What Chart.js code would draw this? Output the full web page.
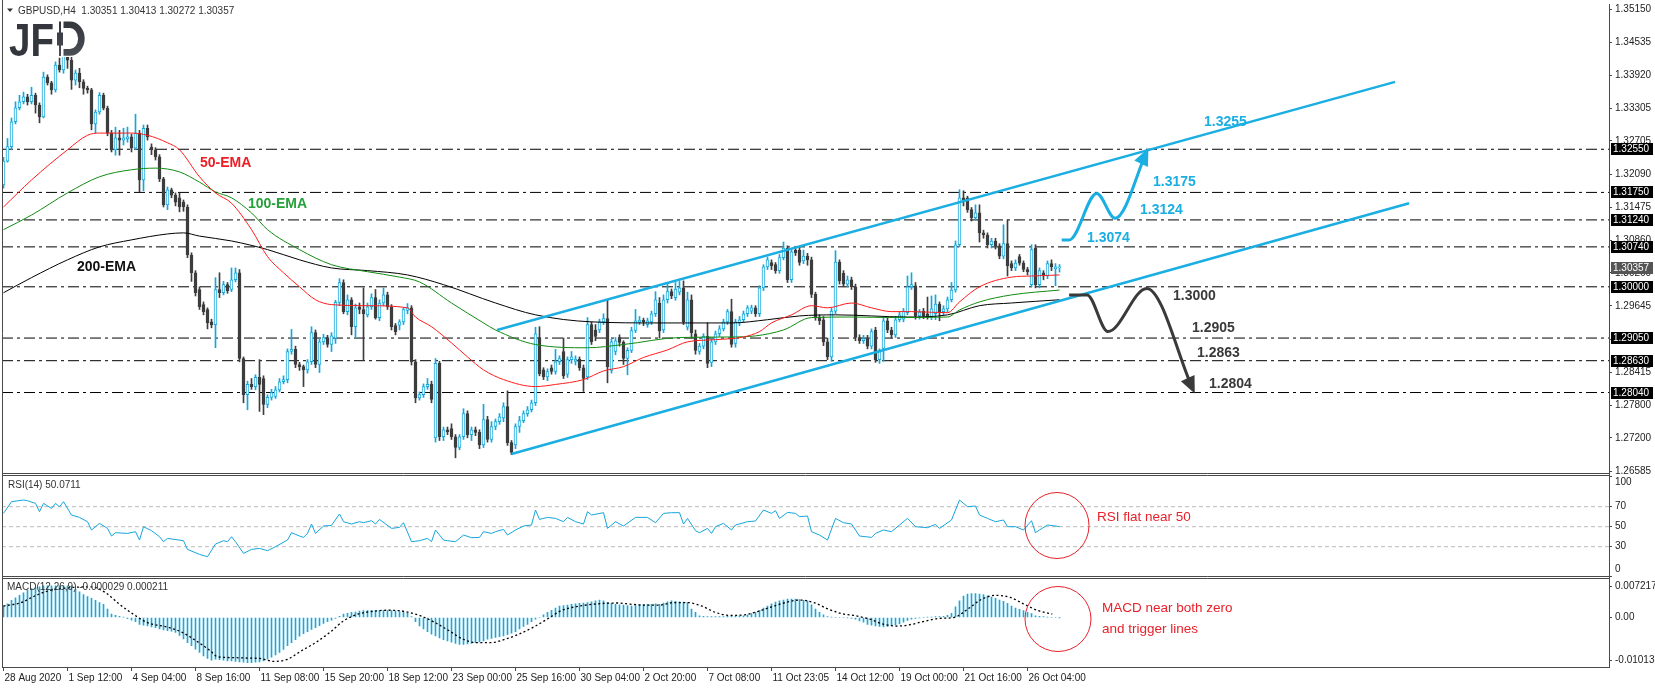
<!DOCTYPE html>
<html>
<head>
<meta charset="utf-8">
<title>GBPUSD H4</title>
<script src="https://cdn.jsdelivr.net/npm/chart.js@4.4.1/dist/chart.umd.min.js"></script>
<style>
  html, body { margin: 0; padding: 0; background: #fff; }
  canvas { display: block; }
</style>
</head>
<body>
<canvas id="chart" width="1655" height="688"></canvas>
<script>
'use strict';

// ---- values: GBPUSD H4, one entry per bar ----
const OPEN = [
  1.3189,1.3233,1.3260,1.3306,1.3332,1.3343,1.3352,1.3343,1.3355,1.3337,
  1.3315,1.3389,1.3378,1.3365,1.3411,1.3402,1.3435,1.3420,1.3383,1.3396,
  1.3380,1.3368,1.3365,1.3302,1.3324,1.3355,1.3331,1.3285,1.3254,1.3276,
  1.3272,1.3274,1.3278,1.3257,1.3285,1.3198,1.3294,1.3259,1.3254,1.3241,
  1.3200,1.3152,1.3180,1.3170,1.3165,1.3157,1.3148,1.3059,1.3026,1.2995,
  1.2967,1.2958,1.2935,1.2930,1.2995,1.2989,1.3004,1.2995,1.3013,1.3026,
  1.2867,1.2800,1.2819,1.2815,1.2832,1.2830,1.2782,1.2795,1.2797,1.2809,
  1.2824,1.2828,1.2880,1.2884,1.2856,1.2852,1.2846,1.2861,1.2915,1.2856,
  1.2898,1.2906,1.2893,1.2905,1.2971,1.3008,1.2954,1.2976,1.2926,1.2963,
  1.2958,1.2948,1.2963,1.2980,1.2943,1.2970,1.2985,1.2963,1.2928,1.2929,
  1.2935,1.2956,1.2961,1.2861,1.2794,1.2800,1.2815,1.2819,1.2720,1.2858,
  1.2722,1.2735,1.2737,1.2722,1.2702,1.2722,1.2765,1.2726,1.2735,1.2730,
  1.2707,1.2754,1.2717,1.2741,1.2750,1.2757,1.2778,1.2711,1.2707,1.2741,
  1.2752,1.2765,1.2772,1.2785,1.2906,1.2846,1.2833,1.2850,1.2843,1.2861,
  1.2880,1.2838,1.2865,1.2862,1.2866,1.2850,1.2833,1.2930,1.2920,1.2920,
  1.2935,1.2941,1.2845,1.2880,1.2906,1.2897,1.2867,1.2882,1.2919,1.2935,
  1.2938,1.2930,1.2935,1.2950,1.2970,1.2920,1.2976,1.2991,1.2980,1.2990,
  1.2998,1.2925,1.2976,1.2913,1.2880,1.2890,1.2908,1.2860,1.2898,1.2913,
  1.2922,1.2935,1.2954,1.2895,1.2933,1.2939,1.2950,1.2955,1.2961,1.2950,
  1.2998,1.3037,1.3045,1.3041,1.3030,1.3054,1.3072,1.3013,1.3068,1.3068,
  1.3048,1.3057,1.3050,1.2986,1.2943,1.2939,1.2898,1.2870,1.2955,1.3046,
  1.3025,1.3005,1.3013,1.3000,1.2906,1.2900,1.2904,1.2890,1.2920,1.2865,
  1.2886,1.2937,1.2920,1.2911,1.2939,1.2940,1.2952,1.3000,1.3002,1.2946,
  1.2955,1.2950,1.2944,1.2950,1.2968,1.2954,1.2959,1.2976,1.2994,1.3078,
  1.3165,1.3165,1.3143,1.3128,1.3137,1.3100,1.3096,1.3078,1.3085,1.3076,
  1.3057,1.3080,1.3043,1.3035,1.3056,1.3044,1.3032,1.3004,1.3072,1.3004,
  1.3026,1.3020,1.3043,1.3033,1.30351
];
const HIGH = [
  1.3240,1.3275,1.3313,1.3343,1.3355,1.3361,1.3357,1.3370,1.3359,1.3341,
  1.3398,1.3393,1.3381,1.3417,1.3424,1.3460,1.3482,1.3432,1.3402,1.3405,
  1.3384,1.3372,1.3368,1.3328,1.3360,1.3359,1.3335,1.3290,1.3296,1.3290,
  1.3294,1.3296,1.3283,1.3320,1.3290,1.3300,1.3300,1.3265,1.3258,1.3245,
  1.3203,1.3185,1.3183,1.3174,1.3174,1.3161,1.3152,1.3063,1.3030,1.3000,
  1.2972,1.2961,1.2940,1.3017,1.3026,1.3010,1.3008,1.3035,1.3035,1.3032,
  1.2870,1.2825,1.2830,1.2837,1.2865,1.2835,1.2800,1.2810,1.2815,1.2830,
  1.2835,1.2885,1.2921,1.2890,1.2860,1.2855,1.2865,1.2926,1.2920,1.2905,
  1.2912,1.2910,1.2915,1.2975,1.3015,1.3013,1.2985,1.2980,1.2968,1.2970,
  1.2998,1.2970,1.2987,1.2995,1.2976,1.2998,1.2990,1.2967,1.2932,1.2939,
  1.2961,1.2969,1.2965,1.2865,1.2805,1.2820,1.2830,1.2825,1.2867,1.2862,
  1.2740,1.2740,1.2746,1.2726,1.2726,1.2774,1.2770,1.2740,1.2740,1.2735,
  1.2782,1.2760,1.2750,1.2755,1.2765,1.2785,1.2807,1.2715,1.2746,1.2760,
  1.2770,1.2778,1.2790,1.2925,1.2926,1.2850,1.2848,1.2855,1.2884,1.2872,
  1.2905,1.2870,1.2880,1.2872,1.2870,1.2855,1.2943,1.2935,1.2930,1.2940,
  1.2950,1.2976,1.2903,1.2906,1.2911,1.2900,1.2887,1.2925,1.2958,1.2945,
  1.2942,1.2942,1.2955,1.2991,1.2980,1.2985,1.3005,1.2996,1.3008,1.3010,
  1.3011,1.2990,1.2985,1.2920,1.2895,1.2913,1.2933,1.2905,1.2918,1.2928,
  1.2940,1.2958,1.2977,1.2940,1.2945,1.2955,1.2965,1.2966,1.2965,1.3002,
  1.3041,1.3055,1.3050,1.3045,1.3060,1.3083,1.3076,1.3070,1.3074,1.3075,
  1.3068,1.3062,1.3055,1.2990,1.2948,1.2945,1.2905,1.2960,1.3067,1.3050,
  1.3030,1.3020,1.3018,1.3005,1.2911,1.2910,1.2910,1.2922,1.2925,1.2885,
  1.2942,1.2942,1.2925,1.2945,1.2953,1.2960,1.3020,1.3026,1.3008,1.2958,
  1.2960,1.2981,1.2983,1.2985,1.2972,1.2965,1.2981,1.3008,1.3085,1.3180,
  1.3178,1.3168,1.3147,1.3152,1.3152,1.3105,1.3100,1.3090,1.3090,1.3080,
  1.3115,1.3124,1.3048,1.3050,1.3060,1.3048,1.3036,1.3078,1.3078,1.3035,
  1.3030,1.3048,1.3050,1.3043,1.30413
];
const LOW = [
  1.3183,1.3231,1.3254,1.3302,1.3328,1.3339,1.3337,1.3339,1.3322,1.3304,
  1.3313,1.3374,1.3357,1.3361,1.3398,1.3396,1.3405,1.3366,1.3374,1.3369,
  1.3357,1.3359,1.3291,1.3285,1.3320,1.3328,1.3280,1.3250,1.3244,1.3244,
  1.3263,1.3268,1.3250,1.3254,1.3176,1.3178,1.3272,1.3245,1.3235,1.3195,
  1.3148,1.3143,1.3165,1.3150,1.3139,1.3140,1.3054,1.3010,1.2983,1.2958,
  1.2948,1.2922,1.2924,1.2887,1.2980,1.2985,1.2988,1.2991,1.3009,1.2861,
  1.2785,1.2772,1.2810,1.2809,1.2769,1.2763,1.2776,1.2790,1.2793,1.2805,
  1.2820,1.2822,1.2875,1.2850,1.2845,1.2815,1.2840,1.2856,1.2850,1.2841,
  1.2893,1.2888,1.2880,1.2895,1.2965,1.2950,1.2948,1.2911,1.2905,1.2950,
  1.2865,1.2944,1.2958,1.2940,1.2937,1.2965,1.2958,1.2920,1.2911,1.2920,
  1.2930,1.2950,1.2855,1.2785,1.2790,1.2795,1.2810,1.2785,1.2712,1.2715,
  1.2715,1.2726,1.2717,1.2683,1.2698,1.2717,1.2720,1.2715,1.2724,1.2700,
  1.2702,1.2712,1.2712,1.2735,1.2745,1.2750,1.2706,1.2689,1.2700,1.2730,
  1.2748,1.2760,1.2768,1.2780,1.2835,1.2828,1.2826,1.2838,1.2838,1.2856,
  1.2830,1.2832,1.2858,1.2855,1.2845,1.2806,1.2828,1.2893,1.2900,1.2915,
  1.2930,1.2822,1.2840,1.2874,1.2890,1.2856,1.2837,1.2878,1.2915,1.2930,
  1.2928,1.2925,1.2930,1.2945,1.2905,1.2915,1.2970,1.2978,1.2975,1.2985,
  1.2930,1.2920,1.2905,1.2875,1.2875,1.2885,1.2850,1.2852,1.2893,1.2908,
  1.2918,1.2930,1.2888,1.2888,1.2928,1.2935,1.2945,1.2950,1.2945,1.2945,
  1.2993,1.3032,1.3032,1.3025,1.3025,1.3050,1.3008,1.3008,1.3058,1.3040,
  1.3043,1.3040,1.2980,1.2938,1.2930,1.2891,1.2865,1.2862,1.2950,1.3005,
  1.3000,1.3000,1.2995,1.2900,1.2895,1.2895,1.2885,1.2885,1.2860,1.2858,
  1.2862,1.2915,1.2905,1.2906,1.2935,1.2935,1.2948,1.2995,1.2940,1.2940,
  1.2941,1.2940,1.2939,1.2939,1.2937,1.2948,1.2953,1.2972,1.2990,1.3074,
  1.3150,1.3138,1.3122,1.3124,1.3083,1.3090,1.3072,1.3072,1.3070,1.3052,
  1.3052,1.3020,1.3030,1.3030,1.3040,1.3028,1.3022,1.3000,1.2998,1.2998,
  1.3013,1.3015,1.3030,1.3002,1.30272
];
const CLOSE = [
  1.3233,1.3260,1.3306,1.3332,1.3343,1.3352,1.3343,1.3355,1.3337,1.3315,
  1.3389,1.3378,1.3365,1.3411,1.3402,1.3435,1.3420,1.3383,1.3396,1.3380,
  1.3368,1.3365,1.3302,1.3324,1.3355,1.3331,1.3285,1.3254,1.3276,1.3272,
  1.3276,1.3278,1.3257,1.3285,1.3198,1.3294,1.3278,1.3254,1.3241,1.3200,
  1.3152,1.3180,1.3170,1.3157,1.3148,1.3148,1.3059,1.3026,1.2989,1.2963,
  1.2954,1.2933,1.2930,1.2995,1.2989,1.3004,1.2993,1.3013,1.3026,1.2867,
  1.2800,1.2819,1.2815,1.2832,1.2819,1.2782,1.2795,1.2804,1.2809,1.2824,
  1.2828,1.2880,1.2884,1.2856,1.2852,1.2846,1.2861,1.2915,1.2856,1.2898,
  1.2906,1.2893,1.2909,1.2971,1.3008,1.2954,1.2976,1.2926,1.2961,1.2958,
  1.2950,1.2963,1.2980,1.2943,1.2970,1.2985,1.2963,1.2926,1.2917,1.2935,
  1.2958,1.2961,1.2861,1.2794,1.2800,1.2815,1.2819,1.2791,1.2858,1.2722,
  1.2735,1.2731,1.2722,1.2702,1.2722,1.2765,1.2726,1.2735,1.2730,1.2707,
  1.2754,1.2717,1.2741,1.2750,1.2759,1.2778,1.2711,1.2693,1.2741,1.2752,
  1.2765,1.2772,1.2785,1.2913,1.2839,1.2833,1.2843,1.2843,1.2861,1.2867,
  1.2835,1.2865,1.2870,1.2866,1.2850,1.2830,1.2930,1.2898,1.2908,1.2935,
  1.2941,1.2852,1.2898,1.2900,1.2897,1.2867,1.2882,1.2919,1.2937,1.2938,
  1.2935,1.2937,1.2950,1.2976,1.2918,1.2976,1.2991,1.2983,1.2996,1.2998,
  1.2935,1.2976,1.2915,1.2882,1.2890,1.2908,1.2858,1.2898,1.2913,1.2922,
  1.2935,1.2954,1.2893,1.2935,1.2939,1.2950,1.2961,1.2961,1.2950,1.2998,
  1.3037,1.3050,1.3039,1.3030,1.3054,1.3072,1.3013,1.3065,1.3063,1.3045,
  1.3057,1.3050,1.2986,1.2943,1.2937,1.2898,1.2870,1.2955,1.3046,1.3011,
  1.3005,1.3013,1.3000,1.2906,1.2900,1.2904,1.2890,1.2917,1.2865,1.2880,
  1.2937,1.2920,1.2911,1.2939,1.2948,1.2955,1.3000,1.3004,1.2946,1.2953,
  1.2946,1.2944,1.2959,1.2968,1.2954,1.2959,1.2976,1.2994,1.3078,1.3165,
  1.3161,1.3143,1.3128,1.3137,1.3100,1.3096,1.3078,1.3085,1.3076,1.3057,
  1.3080,1.3039,1.3035,1.3044,1.3044,1.3032,1.3028,1.3069,1.3004,1.3030,
  1.3020,1.3043,1.3037,1.3037,1.30357
];

// moving averages, [bar, price] read at intervals along each curve
const EMA50 = [[0,1.3148],[7,1.3198],[16,1.3254],[21,1.3281],[24,1.3285],[32,1.3285],[36,1.3281],[41,1.3267],[44,1.3254],[49,1.3204],[53,1.3174],[57,1.3155],[62,1.3106],[66,1.3056],[70,1.3026],[74,1.3000],[78,1.2976],[82,1.2967],[91,1.2965],[101,1.2961],[103,1.2944],[107,1.2926],[112,1.2896],[116,1.2870],[120,1.2846],[125,1.2828],[133,1.2815],[138,1.2819],[145,1.2828],[150,1.2844],[155,1.2852],[160,1.2869],[166,1.2883],[171,1.2898],[178,1.2902],[185,1.2907],[189,1.2917],[192,1.2933],[197,1.2948],[202,1.2965],[206,1.2961],[212,1.2970],[217,1.2961],[222,1.2954],[227,1.2954],[236,1.2952],[239,1.2972],[244,1.3000],[252,1.3018],[257,1.3020],[264,1.3022]];
const EMA100 = [[0,1.3106],[7,1.3133],[16,1.3174],[24,1.3204],[32,1.3217],[38,1.3220],[44,1.3213],[49,1.3194],[53,1.3176],[57,1.3165],[62,1.3137],[66,1.3106],[74,1.3069],[82,1.3041],[91,1.3028],[99,1.3018],[104,1.3009],[112,1.2970],[120,1.2933],[123,1.2920],[133,1.2893],[146,1.2887],[155,1.2893],[169,1.2906],[182,1.2907],[188,1.2909],[195,1.2920],[202,1.2943],[212,1.2944],[223,1.2943],[236,1.2944],[239,1.2957],[244,1.2972],[252,1.2985],[264,1.2994]];
const EMA200 = [[0,1.2989],[7,1.3017],[16,1.3050],[24,1.3074],[32,1.3087],[41,1.3098],[45,1.3100],[49,1.3094],[57,1.3085],[66,1.3069],[74,1.3050],[82,1.3035],[91,1.3030],[101,1.3022],[110,1.3004],[123,1.2970],[133,1.2948],[147,1.2935],[164,1.2933],[182,1.2933],[191,1.2939],[199,1.2946],[208,1.2948],[226,1.2944],[236,1.2948],[244,1.2965],[252,1.2970],[264,1.2976]];

// RSI(14), [bar, value]
const RSI = [[0,63.3],[2,75],[5,76.7],[6,76],[8,73.3],[9,65],[10,73.3],[12,68.3],[13,73.3],[14,70],[15,75],[17,61.7],[19,59.3],[21,55],[22,46.7],[24,53.3],[26,48.3],[27,40.7],[28,44],[31,43.3],[33,45],[34,36.7],[35,50],[37,46],[39,40],[40,35],[41,38.3],[45,36],[46,27.3],[49,22.3],[51,20],[53,32.7],[55,36],[56,35],[57,40],[58,35],[60,23.3],[62,27.3],[64,28.3],[66,26],[68,30],[71,36.7],[72,44],[74,40.7],[75,39.3],[76,43.3],[77,52.7],[78,43.3],[80,50.7],[82,51.3],[84,62.7],[85,55],[87,52.7],[89,55],[90,54],[92,56],[93,52.7],[94,57.3],[97,48.3],[99,49.3],[100,54],[102,35],[104,36],[106,38.3],[107,35],[108,46.7],[110,36.7],[111,36],[113,35],[115,41.7],[117,39],[119,39.3],[120,45],[122,43.3],[123,45],[125,47.3],[126,41.7],[128,46.7],[130,50.7],[132,51.7],[133,66.7],[134,57.3],[136,59.3],[138,58.3],[140,55],[141,59.3],[143,55],[145,52.7],[146,65],[147,61.7],[150,64],[151,48.3],[153,55],[155,50.7],[158,59.3],[161,59.3],[163,54],[165,63.3],[167,64],[169,64],[170,52.7],[171,58.3],[173,46],[174,44],[176,48.3],[177,43.3],[178,50],[180,53.3],[182,46.7],[183,51.7],[186,55],[188,55.7],[190,66.7],[192,63.3],[193,66],[194,58.3],[196,64.3],[198,63.3],[199,60],[201,60.7],[202,45],[204,41.7],[206,36.7],[208,58.3],[210,54],[212,52.7],[214,40.7],[217,39.3],[218,43.3],[220,46.7],[222,45],[224,51.7],[226,58.3],[228,50],[231,49],[233,52.3],[234,48.3],[237,56.7],[239,76.7],[241,70],[243,70.7],[244,61.7],[246,58.3],[248,55],[250,56.7],[251,50],[253,50],[255,46.7],[257,56],[258,44],[259,46.7],[261,51.7],[263,50.7],[264,50.0711]];
const RSI_LEVELS = [30, 50, 70];

// MACD(12,26,9): main line as histogram (one per bar), signal as [bar, value]
const MACD_HIST = [
  0.0027,0.0032,0.0040,0.0046,0.0052,0.0058,0.0064,0.0068,0.0070,0.0072,
  0.0074,0.0074,0.0074,0.0074,0.0074,0.0074,0.0074,0.0072,0.0066,0.0060,
  0.0054,0.0049,0.0045,0.0040,0.0035,0.0031,0.0020,0.0008,0.0005,0.0003,
  0.0001,-0.0003,-0.0006,-0.0010,-0.0016,-0.0018,-0.0020,-0.0022,-0.0024,-0.0027,
  -0.0029,-0.0031,-0.0032,-0.0035,-0.0042,-0.0050,-0.0059,-0.0066,-0.0074,-0.0082,
  -0.0090,-0.0096,-0.0100,-0.0098,-0.0099,-0.0100,-0.0102,-0.0102,-0.0103,-0.0104,
  -0.0105,-0.0106,-0.0106,-0.0105,-0.0104,-0.0102,-0.0098,-0.0093,-0.0088,-0.0082,
  -0.0075,-0.0066,-0.0059,-0.0052,-0.0044,-0.0038,-0.0033,-0.0028,-0.0024,-0.0019,
  -0.0014,-0.0010,-0.0006,-0.0002,0.0003,0.0008,0.0010,0.0012,0.0013,0.0015,
  0.0016,0.0016,0.0017,0.0017,0.0017,0.0017,0.0016,0.0016,0.0015,0.0014,
  0.0012,0.0010,0.0002,-0.0010,-0.0020,-0.0027,-0.0033,-0.0039,-0.0043,-0.0048,
  -0.0052,-0.0055,-0.0058,-0.0061,-0.0063,-0.0063,-0.0062,-0.0061,-0.0059,-0.0057,
  -0.0055,-0.0051,-0.0049,-0.0047,-0.0045,-0.0043,-0.0040,-0.0037,-0.0033,-0.0027,
  -0.0021,-0.0016,-0.0010,-0.0004,0.0000,0.0006,0.0012,0.0017,0.0022,0.0027,
  0.0028,0.0029,0.0031,0.0032,0.0033,0.0034,0.0035,0.0037,0.0039,0.0041,
  0.0039,0.0035,0.0033,0.0031,0.0030,0.0029,0.0028,0.0027,0.0028,0.0030,
  0.0031,0.0031,0.0031,0.0032,0.0031,0.0034,0.0037,0.0039,0.0038,0.0037,
  0.0036,0.0035,0.0020,0.0012,0.0004,0.0003,0.0002,0.0002,0.0002,0.0002,
  0.0002,0.0003,0.0003,0.0003,0.0004,0.0004,0.0006,0.0009,0.0012,0.0017,
  0.0022,0.0027,0.0032,0.0036,0.0039,0.0041,0.0043,0.0043,0.0043,0.0042,
  0.0040,0.0039,0.0030,0.0020,0.0012,0.0006,0.0002,0.0001,0.0000,0.0000,
  0.0000,-0.0001,-0.0002,-0.0004,-0.0008,-0.0011,-0.0016,-0.0018,-0.0020,-0.0021,
  -0.0022,-0.0021,-0.0019,-0.0017,-0.0015,-0.0011,-0.0007,-0.0004,-0.0002,-0.0001,
  0.0000,0.0001,0.0001,0.0002,0.0002,0.0003,0.0005,0.0010,0.0025,0.0039,
  0.0050,0.0055,0.0056,0.0056,0.0055,0.0054,0.0051,0.0048,0.0045,0.0041,
  0.0038,0.0033,0.0027,0.0022,0.0019,0.0016,0.0012,0.0009,0.0004,0.0003,
  0.0002,0.0001,0.0000,0.0000,-0.000029
];
const MACD_SIGNAL = [[0,0.0027],[4.4,0.0035],[7.9,0.0051],[11.4,0.0063],[16.7,0.0070],[21.9,0.0072],[25.4,0.0059],[29,0.0031],[32.4,0.0008],[36,-0.0012],[41.2,-0.0023],[44.7,-0.0035],[48.2,-0.0055],[51.7,-0.0078],[53.5,-0.0092],[57,-0.0094],[60.5,-0.0095],[64,-0.0096],[67.5,-0.0103],[71,-0.0098],[74.5,-0.0078],[78,-0.0059],[81.6,-0.0035],[85,-0.0008],[88.6,0.0008],[92,0.0014],[95.6,0.0017],[99,0.0016],[102.6,0.0009],[104.3,0.0004],[107.9,-0.0012],[111.4,-0.0031],[114.9,-0.0051],[118.4,-0.0059],[121.9,-0.0059],[125.4,-0.0051],[128.9,-0.0039],[132.4,-0.0023],[135.9,-0.0004],[139.4,0.0016],[142.9,0.0025],[146.4,0.0030],[150,0.0033],[153.5,0.0034],[157,0.0031],[160.5,0.0029],[164,0.0029],[167.5,0.0035],[171,0.0035],[174.5,0.0027],[178,0.0012],[181.5,0.0005],[185,0.0006],[188.5,0.0014],[192,0.0025],[195.5,0.0035],[199,0.0041],[202.6,0.0035],[206.1,0.0020],[209.6,0.0009],[213.1,0.0004],[216.6,-0.0004],[220.1,-0.0016],[223.6,-0.0020],[227.1,-0.0016],[230.6,-0.0008],[234.1,-0.0002],[237.6,0],[241.1,0.0020],[244.6,0.0043],[248.2,0.0052],[251.7,0.0047],[255.2,0.0031],[258.7,0.0016],[262.2,0.0008]];
const MACD_NOW = [-0.000029, 0.000211];

// drawn objects, in [bar, price]
const LEVELS = [1.3255, 1.3175, 1.3124, 1.3074, 1.3000, 1.2905, 1.2863, 1.2804];
const CHANNEL_UP = [[123.4, 1.2920], [347.9, 1.3380]];
const CHANNEL_LOW = [[127.0, 1.2690], [351.4, 1.3155]];
const PATH_BULL = [[264.55, 1.3087], [266.45, 1.3087], [273.3, 1.3173], [277.9, 1.3127], [285.8, 1.3250]];
const PATH_BEAR = [[266.4, 1.2985], [270.9, 1.2985], [276.1, 1.2917], [285.8, 1.2997], [297.4, 1.2809]];

// axes
const PRICE_TICKS = [1.3515, 1.34535, 1.3392, 1.33305, 1.32705, 1.3209, 1.31475, 1.3086, 1.3026, 1.29645, 1.2903, 1.28415, 1.278, 1.272, 1.26585];
const RSI_TICKS = [0, 30, 50, 70, 100];
const MACD_TICKS = [0.007217, 0, -0.010138];
const TIME_LABELS = ['28 Aug 2020', '1 Sep 12:00', '4 Sep 04:00', '8 Sep 16:00', '11 Sep 08:00', '15 Sep 20:00', '18 Sep 12:00', '23 Sep 00:00', '25 Sep 16:00', '30 Sep 04:00', '2 Oct 20:00', '7 Oct 08:00', '11 Oct 23:05', '14 Oct 12:00', '19 Oct 00:00', '21 Oct 16:00', '26 Oct 04:00'];
const TIME_STEP = 16; // bars between time labels

// ---- look ----
const FONT = '"Liberation Sans", Arial, sans-serif';
const AXIS = '#4a4a4a';
const TXT = '#222';
const UP = '#12a8dc';
const DN = '#3d3d3d';
const BLUE = '#1aaee2';
const GREY = '#3a3a3a';
const RED = '#e8212b';

const N = CLOSE.length;
const isUp = CLOSE.map((c, i) => c >= OPEN[i]);
const XMIN = -0.375, XMAX = 401.375;
const xy = (pairs) => pairs.map(([x, y]) => ({ x, y }));
const across = (v) => [{ x: XMIN, y: v }, { x: XMAX, y: v }];
const line = (o) => Object.assign({ type: 'line', pointRadius: 0, fill: false, borderWidth: 1, tension: 0 }, o);

const NOTES = [
  { t: '50-EMA', x: 200, y: 163, c: '#ee1d24' },
  { t: '100-EMA', x: 248, y: 204, c: '#25a13a' },
  { t: '200-EMA', x: 77, y: 267, c: '#111' },
  { t: '1.3255', x: 1204, y: 122, c: BLUE },
  { t: '1.3175', x: 1153, y: 182, c: BLUE },
  { t: '1.3124', x: 1140, y: 210, c: BLUE },
  { t: '1.3074', x: 1087, y: 238, c: BLUE },
  { t: '1.3000', x: 1173, y: 296, c: GREY },
  { t: '1.2905', x: 1192, y: 328, c: GREY },
  { t: '1.2863', x: 1197, y: 353, c: GREY },
  { t: '1.2804', x: 1209, y: 384, c: GREY }
];

function yAxis(o) {
  return Object.assign({
    type: 'linear', axis: 'y', position: 'right', stack: 'panes', bounds: 'data',
    grid: { display: true, drawOnChartArea: false, drawTicks: true, tickLength: 3, color: AXIS },
    border: { display: true, color: AXIS },
    afterFit: (s) => { s.width = 46; s.paddingTop = 0; s.paddingBottom = 0; }
  }, o);
}
const tickFont = { autoSkip: false, padding: 3, color: TXT, font: { family: FONT, size: 10 } };

function head(ctx, pts, color, sx, sy) {
  const a = pts[pts.length - 2], b = pts[pts.length - 1];
  const ax = sx.getPixelForValue(a[0]), ay = sy.getPixelForValue(a[1]);
  const bx = sx.getPixelForValue(b[0]), by = sy.getPixelForValue(b[1]);
  ctx.save();
  ctx.translate(bx, by);
  ctx.rotate(Math.atan2(by - ay, bx - ax));
  ctx.beginPath();
  ctx.moveTo(4, 0); ctx.lineTo(-13, -7.5); ctx.lineTo(-13, 7.5); ctx.closePath();
  ctx.fillStyle = color; ctx.fill();
  ctx.restore();
}

function logo(ctx) {
  ctx.save();
  ctx.fillStyle = '#fff';
  ctx.fillRect(8, 18, 82, 39);
  const g = ctx.createLinearGradient(0, 21, 0, 56);
  g.addColorStop(0, '#33363c'); g.addColorStop(1, '#4a4e55');
  ctx.fillStyle = g; ctx.strokeStyle = g;
  ctx.font = 'bold 47px ' + FONT;
  ctx.textBaseline = 'alphabetic'; ctx.textAlign = 'left';
  ctx.save(); ctx.translate(9, 55.5); ctx.scale(0.82, 1); ctx.fillText('JF', 0, 0); ctx.restore();
  // candle in place of the stem of D
  ctx.fillRect(59, 21.5, 2, 34.5);
  ctx.fillRect(57, 32.5, 6, 13);
  ctx.lineWidth = 6.6;
  ctx.beginPath();
  ctx.moveTo(63.5, 24.8); ctx.lineTo(70, 24.8);
  ctx.ellipse(70, 38.6, 11.4, 13.8, 0, -Math.PI / 2, Math.PI / 2);
  ctx.lineTo(63.5, 52.4);
  ctx.stroke();
  ctx.restore();
}

const decor = {
  id: 'decor',
  beforeDraw(chart) {
    const ctx = chart.ctx;
    ctx.save(); ctx.fillStyle = '#fff'; ctx.fillRect(0, 0, chart.width, chart.height); ctx.restore();
  },
  afterDatasetsDraw(chart) {
    const ctx = chart.ctx, { x, y } = chart.scales;
    head(ctx, PATH_BULL, BLUE, x, y);
    head(ctx, PATH_BEAR, GREY, x, y);
    logo(ctx);
    ctx.save();
    ctx.textBaseline = 'middle'; ctx.textAlign = 'left';
    ctx.font = 'bold 14px ' + FONT;
    for (const n of NOTES) { ctx.fillStyle = n.c; ctx.fillText(n.t, n.x, n.y); }
    ctx.strokeStyle = RED; ctx.lineWidth = 1;
    ctx.beginPath(); ctx.ellipse(1057, 525.5, 32, 33, 0, 0, Math.PI * 2); ctx.stroke();
    ctx.beginPath(); ctx.ellipse(1058, 619, 33, 32.5, 0, 0, Math.PI * 2); ctx.stroke();
    ctx.fillStyle = RED; ctx.font = '13.5px ' + FONT;
    ctx.fillText('RSI flat near 50', 1097, 517);
    ctx.fillText('MACD near both zero', 1102, 608);
    ctx.fillText('and trigger lines', 1102, 629);
    ctx.restore();
  },
  afterDraw(chart) {
    const ctx = chart.ctx, { y, rsi } = chart.scales;
    const L = chart.chartArea.left, R = chart.chartArea.right;
    ctx.save();
    ctx.strokeStyle = AXIS; ctx.lineWidth = 1;
    ctx.beginPath();
    ctx.moveTo(L + 0.5, 0); ctx.lineTo(L + 0.5, chart.chartArea.bottom);
    for (const yy of [473.5, 475.5, 576.5, 578.5]) { ctx.moveTo(L, yy); ctx.lineTo(R, yy); }
    ctx.stroke();
    ctx.font = '10px ' + FONT; ctx.textBaseline = 'middle'; ctx.textAlign = 'left';
    // RSI scale labels, kept inside their pane like the terminal does
    ctx.fillStyle = TXT;
    for (const v of RSI_TICKS) {
      const py = Math.min(Math.max(rsi.getPixelForValue(v), rsi.top + 7), rsi.bottom - 8);
      ctx.fillText(String(v), R + 6, py);
    }
    // price boxes on the axis
    const box = (v, bg) => {
      const py = Math.round(y.getPixelForValue(v));
      ctx.fillStyle = bg; ctx.fillRect(R + 2, py - 6, 42, 12);
      ctx.fillStyle = '#fff'; ctx.fillText(v.toFixed(5), R + 4, py + 0.5);
    };
    LEVELS.forEach((v) => box(v, '#000'));
    box(CLOSE[N - 1], '#555');
    // header and pane captions
    ctx.fillStyle = '#333';
    ctx.beginPath(); ctx.moveTo(7, 8.5); ctx.lineTo(13, 8.5); ctx.lineTo(10, 12); ctx.closePath(); ctx.fill();
    const ohlc = [OPEN, HIGH, LOW, CLOSE].map((a) => a[N - 1].toFixed(5)).join(' ');
    ctx.fillText('GBPUSD,H4  ' + ohlc, 18, 11);
    ctx.fillText('RSI(14) ' + RSI[RSI.length - 1][1], 8, 485);
    ctx.fillText('MACD(12,26,9) ' + MACD_NOW[0].toFixed(6) + ' ' + MACD_NOW[1].toFixed(6), 7, 587);
    ctx.restore();
  }
};

new Chart(document.getElementById('chart'), {
  type: 'bar',
  data: {
    datasets: [
      ...LEVELS.map((v) => line({ data: across(v), borderColor: '#000', borderDash: [11, 4, 3, 4], order: 30 })),
      {
        type: 'bar', data: LOW.map((l, i) => ({ x: i, y: [l, HIGH[i]] })),
        backgroundColor: isUp.map((u) => (u ? UP : DN)), borderWidth: 0,
        barThickness: 1, grouped: false, order: 25
      },
      {
        type: 'bar', data: OPEN.map((o, i) => ({ x: i, y: [o, CLOSE[i]] })),
        backgroundColor: isUp.map((u) => (u ? '#fff' : DN)), borderColor: isUp.map((u) => (u ? UP : DN)),
        borderWidth: 1, borderSkipped: false, minBarLength: 1, barThickness: 3, grouped: false, order: 24
      },
      line({ data: xy(EMA200), borderColor: '#000', cubicInterpolationMode: 'monotone', order: 20 }),
      line({ data: xy(EMA100), borderColor: '#138a13', cubicInterpolationMode: 'monotone', order: 19 }),
      line({ data: xy(EMA50), borderColor: '#ff1c1c', cubicInterpolationMode: 'monotone', order: 18 }),
      line({ data: xy(CHANNEL_UP), borderColor: BLUE, borderWidth: 2.5, order: 10 }),
      line({ data: xy(CHANNEL_LOW), borderColor: BLUE, borderWidth: 2.5, order: 10 }),
      line({ data: xy(PATH_BULL), borderColor: BLUE, borderWidth: 3, cubicInterpolationMode: 'monotone', order: 9 }),
      line({ data: xy(PATH_BEAR), borderColor: GREY, borderWidth: 3, cubicInterpolationMode: 'monotone', order: 9 }),
      ...RSI_LEVELS.map((v) => line({ data: across(v), yAxisID: 'rsi', borderColor: '#bcbcbc', borderDash: [4, 3], order: 8 })),
      line({ data: xy(RSI), yAxisID: 'rsi', borderColor: '#17a6da', order: 7 }),
      {
        type: 'bar', yAxisID: 'macd', data: MACD_HIST.map((v, i) => ({ x: i, y: v })),
        backgroundColor: '#1ba8d8', borderWidth: 0, barThickness: 1, grouped: false, order: 6
      },
      line({ data: xy(MACD_SIGNAL), yAxisID: 'macd', borderColor: '#000', borderWidth: 1.3, borderDash: [2, 2.5], cubicInterpolationMode: 'monotone', order: 5 })
    ]
  },
  options: {
    responsive: false,
    animation: false,
    devicePixelRatio: 1,
    events: [],
    layout: { padding: { left: 2, top: 4, right: 0, bottom: 0 } },
    plugins: { legend: { display: false }, tooltip: { enabled: false } },
    scales: {
      x: {
        type: 'linear', min: XMIN, max: XMAX, offset: false, bounds: 'data', position: 'bottom',
        grid: { display: true, offset: false, drawOnChartArea: false, drawTicks: true, tickLength: 4, color: AXIS },
        border: { display: true, color: AXIS },
        afterBuildTicks: (s) => { s.ticks = TIME_LABELS.map((_, k) => ({ value: k * TIME_STEP })); },
        afterFit: (s) => { s.height = 21; s.paddingLeft = 0; s.paddingRight = 0; },
        ticks: Object.assign({}, tickFont, {
          maxRotation: 0, minRotation: 0, align: 'start', labelOffset: 1, padding: 1,
          callback: (v, i) => TIME_LABELS[i]
        })
      },
      y: yAxis({
        stackWeight: 471, min: 1.26511, max: 1.35243,
        afterBuildTicks: (s) => { s.ticks = PRICE_TICKS.map((v) => ({ value: v })); },
        ticks: Object.assign({}, tickFont, { callback: (v) => v.toFixed(5) })
      }),
      rsi: yAxis({
        stackWeight: 102.5, min: -0.8, max: 101.7,
        afterBuildTicks: (s) => { s.ticks = RSI_TICKS.map((v) => ({ value: v })); },
        ticks: Object.assign({}, tickFont, { display: false })
      }),
      macd: yAxis({
        stackWeight: 89.5, min: -0.011609, max: 0.009381,
        afterBuildTicks: (s) => { s.ticks = MACD_TICKS.map((v) => ({ value: v })); },
        ticks: Object.assign({}, tickFont, { callback: (v) => (v === 0 ? '0.00' : v.toFixed(6)) })
      })
    }
  },
  plugins: [decor]
});
</script>
</body>
</html>
